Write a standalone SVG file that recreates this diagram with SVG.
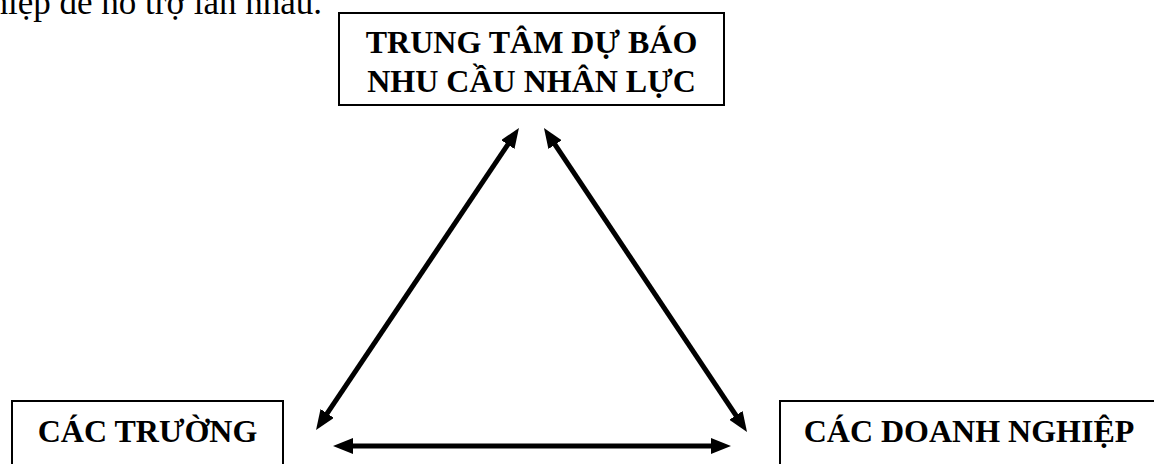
<svg xmlns="http://www.w3.org/2000/svg" width="1154" height="464" viewBox="0 0 1154 464">
<style>
.box{fill:#fff;stroke:#000;stroke-width:2}
.lbl{font-family:"Liberation Serif","Times New Roman",serif;font-weight:bold;font-size:32px;fill:#000;text-anchor:middle}
.body{font-family:"Liberation Serif","Times New Roman",serif;font-size:35px;fill:#000}
.arr{stroke:#000;stroke-width:5;fill:none;marker-start:url(#ah);marker-end:url(#ah)}
</style>
<defs>
<marker id="ah" viewBox="0 0 20 16" refX="7" refY="8" markerWidth="20" markerHeight="16" markerUnits="userSpaceOnUse" orient="auto-start-reverse">
<path d="M0,0 L20,8 L0,16 Z" fill="#000"/>
</marker>
</defs>
<rect width="1154" height="464" fill="#fff"/>
<text class="body" x="322" y="14" text-anchor="end">hiệp để hỗ trợ lẫn nhau.</text>
<g id="connectors">
<line class="arr" x1="511.7" y1="138.8" x2="323.3" y2="419.2"/>
<line class="arr" x1="551.2" y1="138.8" x2="739.8" y2="421.2"/>
<line class="arr" x1="346" y1="446" x2="718" y2="446"/>
</g>
<g id="node-trungtam">
<rect class="box" x="339" y="13" width="385" height="92"/>
<text class="lbl" x="531.5" y="53">TRUNG TÂM DỰ BÁO</text>
<text class="lbl" x="531.5" y="92">NHU CẦU NHÂN LỰC</text>
</g>
<g id="node-truong">
<rect class="box" x="12" y="401" width="271" height="80"/>
<text class="lbl" x="147.5" y="442">CÁC TRƯỜNG</text>
</g>
<g id="node-doanhnghiep">
<rect class="box" x="780" y="401" width="380" height="80"/>
<text class="lbl" x="969" y="442">CÁC DOANH NGHIỆP</text>
</g>
</svg>
